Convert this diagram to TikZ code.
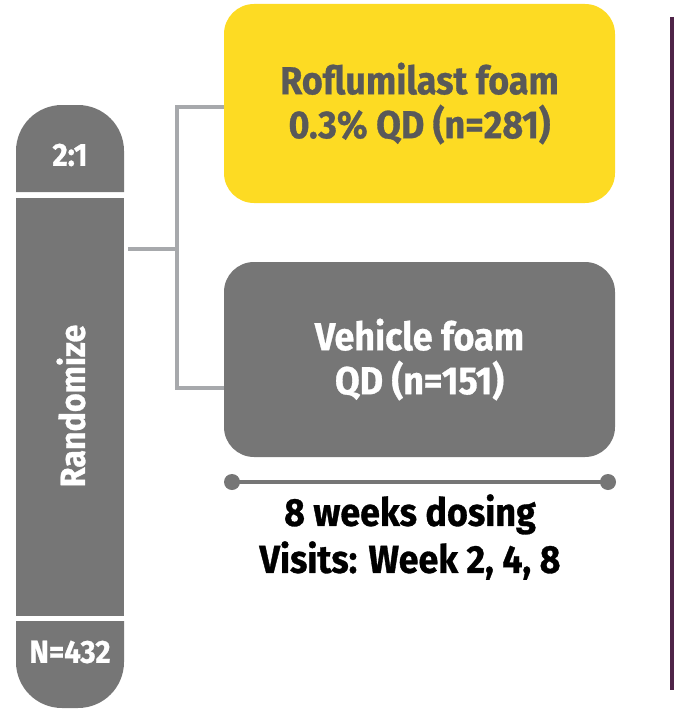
\documentclass[tikz,border=0pt]{standalone}
\usepackage{fontspec}
\setmainfont{Fira Sans}[FakeStretch=0.92,BoldFont={Fira Sans Bold},BoldFeatures={FakeStretch=0.92,FakeBold=0.8}]
\definecolor{armyellow}{HTML}{FDDB23}
\definecolor{armgray}{HTML}{767676}
\definecolor{armtext}{HTML}{595959}
\definecolor{linkgray}{HTML}{A7A9AC}
\definecolor{rulepurple}{HTML}{4F2448}
\tikzset{
  armbox/.style={rounded corners=30pt, minimum width=391pt, inner sep=0pt,
    align=center, font=\bfseries\fontsize{39}{44}\selectfont},
  pilltext/.style={text=white, font=\bfseries\fontsize{32}{34}\selectfont, inner sep=0pt},
  conn/.style={draw=linkgray, line width=3.5pt},
  timeline/.style={draw=armgray, line width=4pt},
  tick/.style={circle, fill=armgray, minimum size=16pt, inner sep=0pt},
}
\begin{document}
\begin{tikzpicture}[x=1pt,y=-1pt]
  \useasboundingbox (0,0) rectangle (674,709);

  % randomisation pill: rounded cap, long middle section, rounded foot
  \fill[armgray] (16,192) [rounded corners=46pt] -- (16,105) -- (124,105)
    [sharp corners] -- (124,192) -- cycle;
  \node[pilltext] (ratio) at (70,155) {2:1};
  \node[fill=armgray, minimum width=108pt, minimum height=418pt, inner sep=0pt]
    (rand) at (70,407) {};
  \node[pilltext, rotate=90, font=\bfseries\fontsize{35}{38}\selectfont] at (71,406) {Randomize};
  \fill[armgray] (16,621) [rounded corners=46pt] -- (16,708) -- (124,708)
    [sharp corners] -- (124,621) -- cycle;
  \node[pilltext] (total) at (70,652) {N=432};

  % treatment arms
  \node[armbox, fill=armyellow, text=armtext, minimum height=199pt]
    (roflu) at (419.5,103.5) {Roflumilast foam\\0.3\% QD (n=281)};
  \node[armbox, fill=armgray, text=white, minimum height=195pt]
    (vehicle) at (419.5,359.5) {Vehicle foam\\QD (n=151)};

  % allocation connector
  \coordinate (stub) at (128,249);
  \coordinate (split) at (177,249);
  \coordinate (upper) at (177,107);
  \coordinate (lower) at (177,388);
  \draw[conn] (stub) -- (split);
  \draw[conn] (roflu.west |- upper) -- (upper) -- (lower) -- (vehicle.west |- lower);

  % dosing period
  \node[tick] (t0) at (232,482) {};
  \node[tick] (t1) at (608,482) {};
  \draw[timeline] (t0.center) -- (t1.center);
  \node[font=\bfseries\fontsize{39}{47}\selectfont, align=center, inner sep=0pt]
    (period) at (410,537) {8 weeks dosing\\Visits: Week 2, 4, 8};

  % divider rule on the right
  \coordinate (ruletop) at (672,17);
  \coordinate (rulebot) at (672,690);
  \draw[rulepurple, line width=3.5pt] (ruletop) -- (rulebot);
\end{tikzpicture}
\end{document}
